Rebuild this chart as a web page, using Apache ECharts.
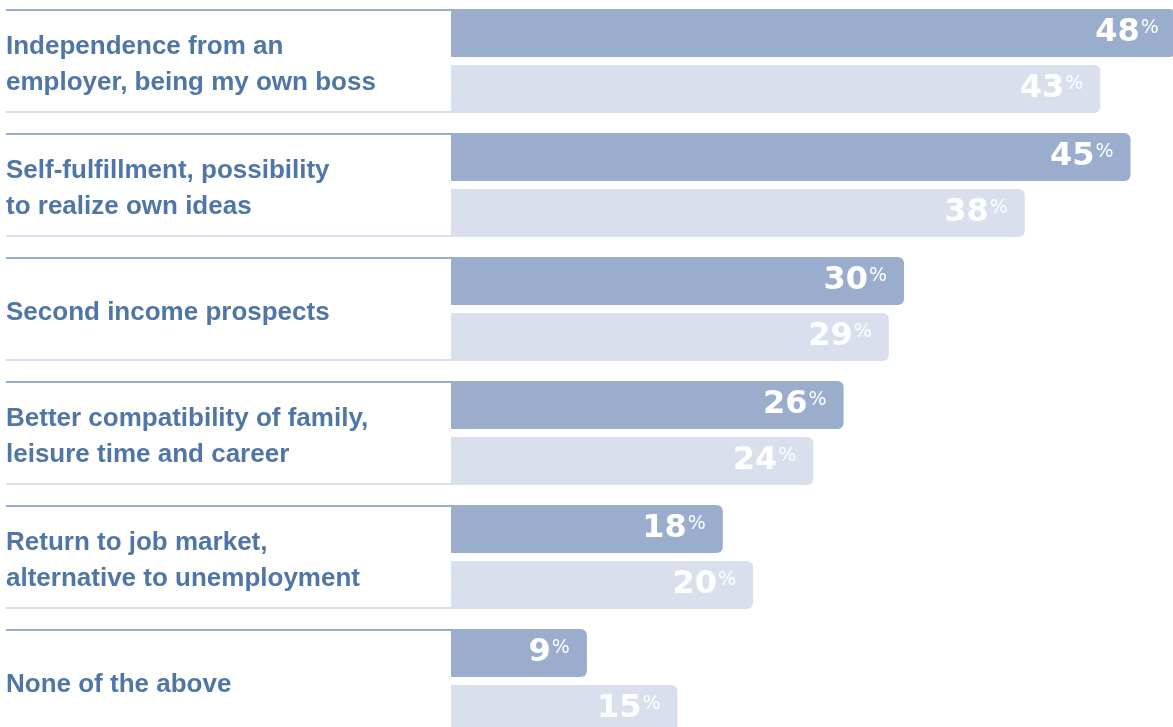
<!DOCTYPE html>
<html>
<head>
<meta charset="utf-8">
<script src="https://cdn.jsdelivr.net/npm/echarts@6/dist/echarts.min.js"></script>
<style>html,body{margin:0;padding:0;background:#fff;}#c{width:1173px;height:727px;}</style>
</head>
<body>
<div id="c"></div>
<script>
const categories = [
  'Independence from an\nemployer, being my own boss',
  'Self-fulfillment, possibility\nto realize own ideas',
  'Second income prospects',
  'Better compatibility of family,\nleisure time and career',
  'Return to job market,\nalternative to unemployment',
  'None of the above'
];
const seriesA = [48, 45, 30, 26, 18, 9];
const seriesB = [43, 38, 29, 24, 20, 15];

const DARK = '#9aadcd';
const LIGHT = '#d9dfed';
const TEXT = '#4f76a7';

const chart = echarts.init(document.getElementById('c'));
const valueLabel = {
  show: true,
  position: 'insideRight',
  distance: 17,
  formatter: p => '{n|' + p.value + '}{p|%}',
  rich: {
    n: { fontSize: 32, fontWeight: 'bold', fontFamily: 'DejaVu Sans', color: '#fff', lineHeight: 36 },
    p: { fontSize: 19, fontFamily: 'DejaVu Sans', color: '#fff', verticalAlign: 'top', lineHeight: 19, padding: [4, 0, 0, 1] }
  }
};
chart.setOption({
  animation: false,
  grid: { left: 451, top: -1, right: -33, bottom: -16, containLabel: false, outerBoundsMode: 'none' },
  xAxis: { type: 'value', min: 0, max: 50, show: false },
  yAxis: {
    type: 'category', data: categories, inverse: true,
    axisLine: { show: false }, axisTick: { show: false }, splitLine: { show: false },
    axisLabel: {
      align: 'left', margin: 445, color: TEXT, fontSize: 26, fontWeight: 'bold',
      fontFamily: 'Liberation Sans',
      formatter: v => v.split('\n').map(l => '{t|' + l + '}').join('\n'),
      rich: {
        t: { color: TEXT, fontSize: 26, fontWeight: 'bold', fontFamily: 'Liberation Sans', lineHeight: 36, padding: [8, 0, 0, 0] }
      }
    }
  },
  series: [
    {
      type: 'bar', data: seriesA, barWidth: 48, barGap: '16.67%',
      itemStyle: { color: DARK, borderRadius: [0, 6, 6, 0] },
      label: valueLabel
    },
    {
      type: 'bar', data: seriesB, barWidth: 48,
      itemStyle: { color: LIGHT, borderRadius: [0, 6, 6, 0] },
      label: valueLabel
    },
    {
      type: 'custom', clip: false, silent: true,
      data: categories.map((c, i) => [0, i]),
      encode: { x: 0, y: 1 },
      renderItem: (params, api) => {
        const p = api.coord([0, api.value(1)]);
        const x0 = p[0] - 445;
        const w = p[0] - x0;
        return {
          type: 'group',
          children: [
            { type: 'rect', shape: { x: x0, y: p[1] - 52, width: w, height: 2 }, style: { fill: DARK } },
            { type: 'rect', shape: { x: x0, y: p[1] + 50, width: w, height: 2 }, style: { fill: LIGHT } }
          ]
        };
      }
    }
  ]
});
</script>
</body>
</html>
